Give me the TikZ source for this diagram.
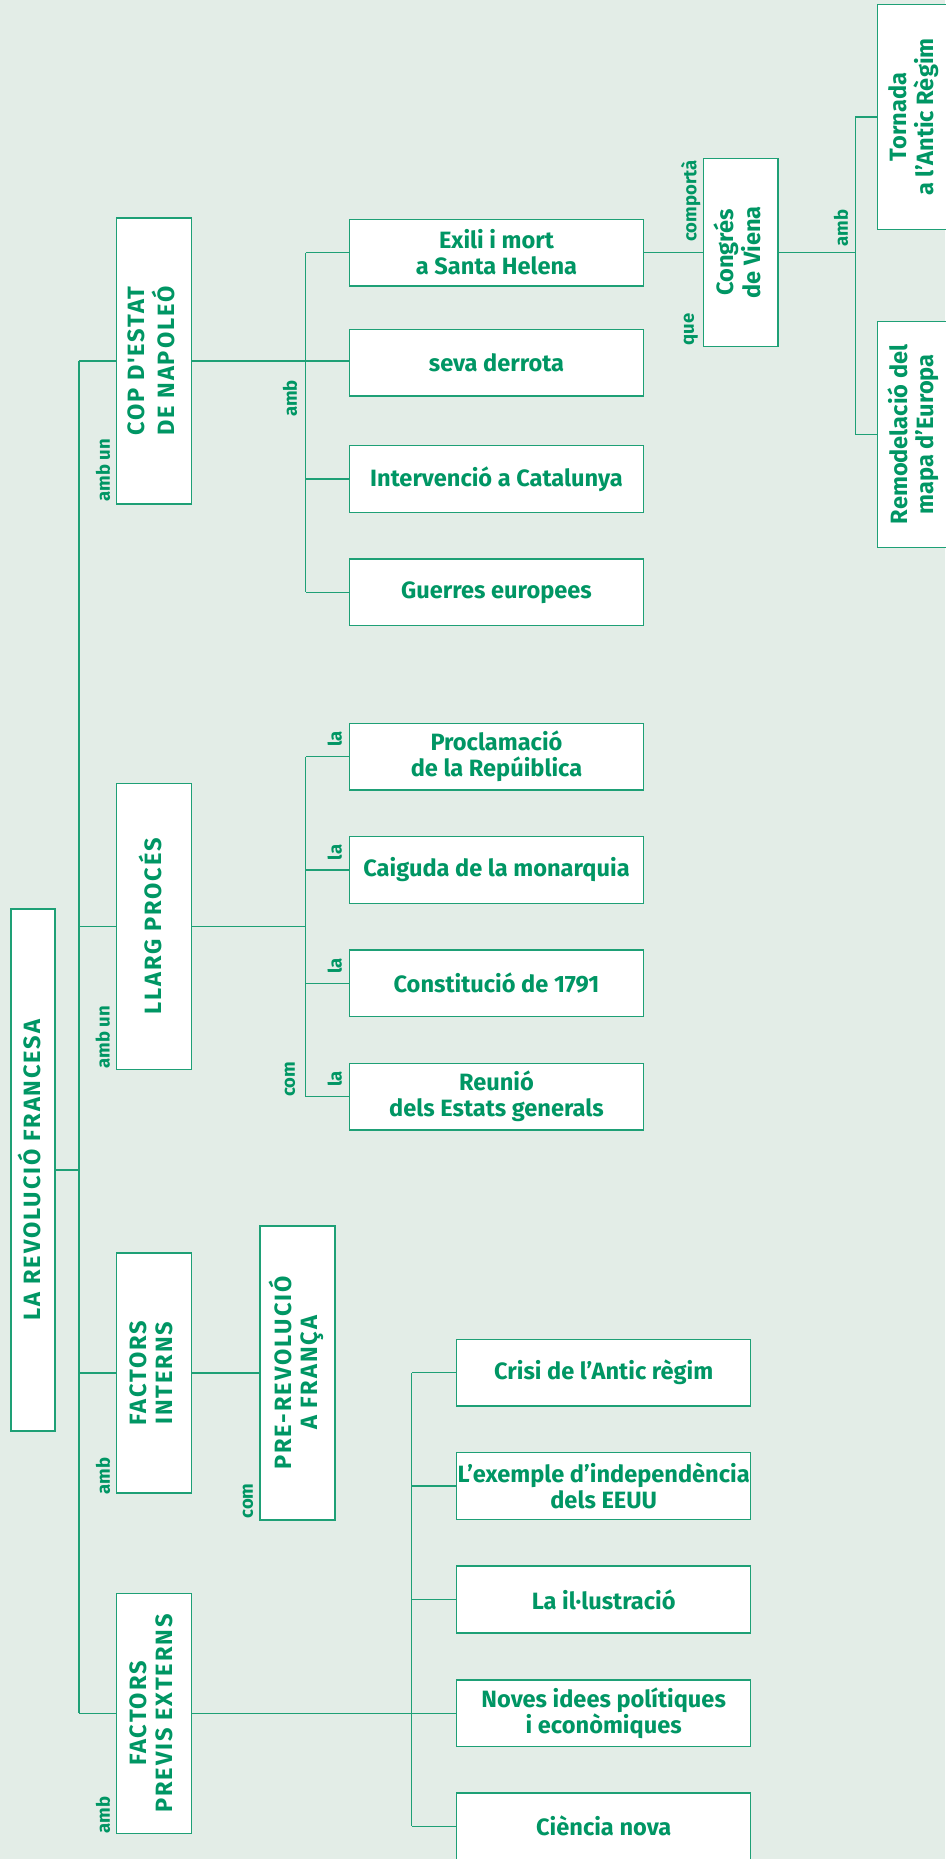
\documentclass[tikz,border=0pt]{standalone}
\usepackage{fontspec}
\usepackage{graphicx}
\setmainfont{Fira Sans}
\newfontfamily\capsfont{Fira Sans}[LetterSpace=8]

\definecolor{frgreen}{RGB}{0,150,100}
\definecolor{frline}{RGB}{30,160,118}
\definecolor{frback}{RGB}{227,237,231}

\tikzstyle{hbox}=[draw=frline,fill=white,line width=1.5pt,minimum width=294pt,minimum height=66.6pt,inner sep=0pt,align=center,text=frgreen,font=\fontsize{23.6}{26}\selectfont\bfseries]
\tikzstyle{vbox}=[hbox,minimum width=74.6pt]
\tikzstyle{lbl}=[text=frgreen,inner sep=0pt,font=\fontsize{18.5}{20}\selectfont\bfseries]
\tikzstyle{link}=[draw=frline,line width=1.2pt]

\newcommand{\vtext}[1]{\rotatebox{90}{\begin{tabular}{@{}c@{}}#1\end{tabular}}}

\begin{document}
\begin{tikzpicture}[x=1pt,y=-1pt]
       \fill[frback] (0,0) rectangle (945,1859);
       \useasboundingbox (0,0) rectangle (945,1859);

       % vertical boxes
       \node[vbox,minimum width=44pt,minimum height=522pt] (revolucio) at (33,1170) {\vtext{\capsfont LA REVOLUCIÓ FRANCESA}};
       \node[vbox,minimum height=285.6pt] (cop) at (154,361) {\vtext{\capsfont COP D'ESTAT\\\capsfont DE NAPOLEÓ}};
       \node[vbox,minimum height=286pt] (llarg) at (154,926.3) {\vtext{\capsfont LLARG PROCÉS}};
       \node[vbox,minimum height=240pt] (interns) at (154,1373) {\vtext{\capsfont FACTORS\\\capsfont INTERNS}};
       \node[vbox,minimum height=240pt] (externs) at (154,1713.4) {\vtext{\capsfont FACTORS\\\capsfont PREVIS EXTERNS}};
       \node[vbox,minimum height=293.7pt] (prerev) at (297.5,1372.9) {\vtext{\capsfont PRE-REVOLUCIÓ\\\capsfont A FRANÇA}};
       \node[vbox,minimum height=187.5pt] (congres) at (740.7,252.5) {\vtext{Congrés\\de Viena}};
       \node[vbox,minimum height=225pt] (tornada) at (914.7,117) {\vtext{Tornada\\a l'Antic Règim}};
       \node[vbox,minimum height=226pt] (remodel) at (914.7,434.4) {\vtext{Remodelació del\\mapa d'Europa}};

       % horizontal boxes
       \foreach \pos/\name/\txt in {{(496.5,252.6)/exili/Exili i mort\\a Santa Helena}, {(496.5,362.7)/derrota/seva derrota},
                                    {(496.5,479)/catalunya/Intervenció a Catalunya}, {(496.5,592.3)/guerres/Guerres europees},
                                    {(496.5,756.7)/proclamacio/Proclamació\\de la Repúiblica}, {(496.5,870)/caiguda/Caiguda de la monarquia},
                                    {(496.5,983.3)/constitucio/Constitució de 1791}, {(496.5,1096.7)/reunio/Reunió\\dels Estats generals},
                                    {(603.7,1372.7)/crisi/Crisi de l'Antic règim}, {(603.7,1486)/eeuu/L'exemple d'independència\\dels EEUU},
                                    {(603.7,1599.5)/illustracio/La il·lustració}, {(603.7,1713.4)/noves/Noves idees polítiques\\i econòmiques},
                                    {(603.7,1826.3)/ciencia/Ciència nova}} {
           \node[hbox] (\name) at \pos {\txt};
       }

       % trunks
       \coordinate (mainx) at (79,0);
       \coordinate (copx) at (305.7,0);
       \coordinate (fpex) at (411.7,0);
       \coordinate (congx) at (855.3,0);

       \draw[link] (cop.west -| mainx) -- (externs.west -| mainx);
       \foreach \name in {cop,llarg,interns,externs} {
           \draw[link] (\name.west) -- (\name.west -| mainx);
       }
       \draw[link] (revolucio.east) -- (revolucio.east -| mainx);

       \draw[link] (exili.west -| copx) -- (guerres.west -| copx);
       \draw[link] (proclamacio.west -| copx) -- (reunio.west -| copx);
       \foreach \name in {exili,catalunya,guerres,proclamacio,caiguda,constitucio,reunio} {
           \draw[link] (\name.west) -- (\name.west -| copx);
       }
       \draw[link] (cop.east) -- (cop.east -| derrota.west);
       \draw[link] (llarg.east) -- (llarg.east -| copx);

       \draw[link] (interns.east) -- (interns.east -| prerev.west);

       \draw[link] (crisi.west -| fpex) -- (ciencia.west -| fpex);
       \foreach \name in {crisi,eeuu,illustracio,ciencia} {
           \draw[link] (\name.west) -- (\name.west -| fpex);
       }
       \draw[link] (externs.east) -- (externs.east -| noves.west);

       \draw[link] (exili.east) -- (exili.east -| congres.west);
       \draw[link] (tornada.west -| congx) -- (remodel.west -| congx);
       \draw[link] (congres.east) -- (congres.east -| congx);
       \foreach \name in {tornada,remodel} {
           \draw[link] (\name.west) -- (\name.west -| congx);
       }

       % labels
       \foreach \pos/\name/\txt in {{(103,470)/ambcop/amb un}, {(290,398.5)/ambnap/amb}, {(102.7,1037.5)/ambllarg/amb un},
                                    {(103,1475.8)/ambint/amb}, {(103,1815)/ambext/amb}, {(290,1079.5)/comllarg/com},
                                    {(248,1501)/comprerev/com}, {(690.8,201)/comporta/comportà}, {(690.8,329.5)/que/que},
                                    {(841,228)/ambcong/amb}, {(334.8,739)/laprocl/la}, {(334.8,852.5)/lacaig/la},
                                    {(334.8,966)/laconst/la}, {(334.8,1079)/lareun/la}} {
           \node[lbl] (\name) at \pos {\rotatebox{90}{\txt}};
       }
\end{tikzpicture}
\end{document}
